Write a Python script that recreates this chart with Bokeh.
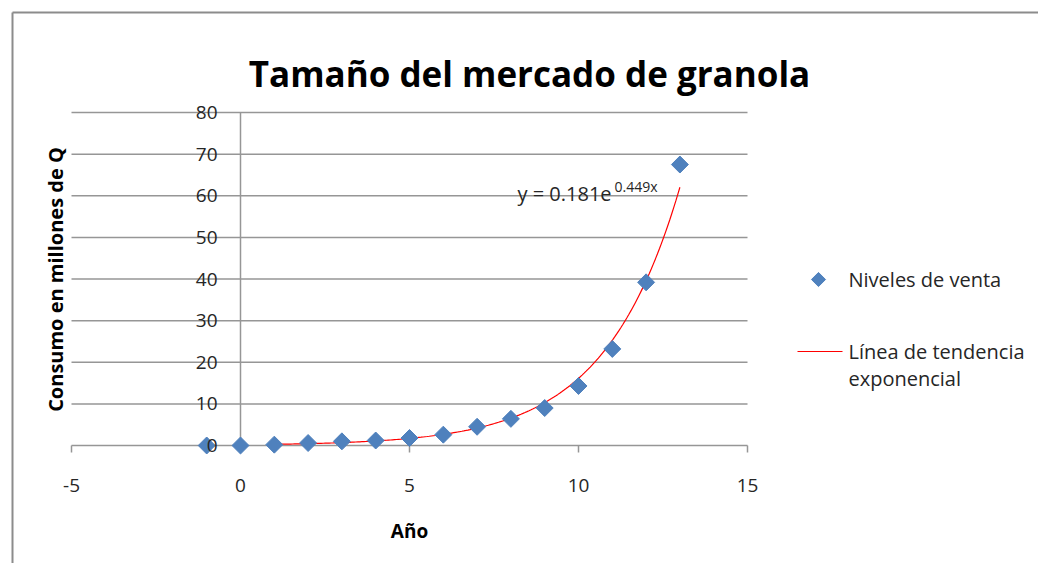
import numpy as np
from bokeh.plotting import figure
from bokeh.models import Range1d, ColumnDataSource
from bokeh.core.properties import value
from bokeh.embed import file_html
from bokeh.resources import INLINE

# ---- data ----
years = [-1, 0, 1, 2, 3, 4, 5, 6, 7, 8, 9, 10, 11, 12, 13]
sales = [0.0, 0.0, 0.2, 0.6, 1.0, 1.2, 1.8, 2.6, 4.5, 6.4, 9.0, 14.3, 23.2, 39.2, 67.5]
trend_a = 0.181   # coefficients shown in the chart's equation
trend_b = 0.449
trend_start, trend_end = 1, 13
x_ticks = [-5, 0, 5, 10, 15]
y_ticks = [0, 10, 20, 30, 40, 50, 60, 70, 80]
title_text = "Tamaño del mercado de granola"
x_title = "Año"
y_title = "Consumo en millones de Q"
series_name = "Niveles de venta"
trend_name_1 = "Línea de tendencia"
trend_name_2 = "exponencial"
eq_main = "y = 0.181e"
eq_sup = "0.449x"

FONT = value("Open Sans")
TXT = "#262626"
GRID = "#969696"
BLUE = "#4f81bd"

# The whole canvas is the plot frame; the plot area spans x -5..15, y 0..80
X0, X1 = -5, 15
Y0, Y1 = 0, 80
PX_L, PX_R, PX_T, PX_B = 71, 747, 112, 445
W, H = 1038, 563
sx = (X1 - X0) / (PX_R - PX_L)
sy = (Y1 - Y0) / (PX_B - PX_T)


def dx(px):
    return X0 + (px - PX_L) * sx


def dy(py):
    return Y0 + (PX_B - py) * sy


p = figure(width=W, height=H, output_backend="svg", toolbar_location=None,
           x_range=Range1d(dx(0), dx(W)), y_range=Range1d(dy(H), dy(0)),
           x_axis_location=None, y_axis_location=None, title=None,
           min_border=0)
p.outline_line_color = None
p.grid.visible = False
p.background_fill_color = "white"
p.border_fill_color = "white"

# outer chart border
p.segment(x0=[dx(12), dx(12)], y0=[dy(12), dy(12)], x1=[dx(12), dx(W + 20)],
          y1=[dy(H + 20), dy(12)], line_color="#8c8c8c", line_width=2)

# horizontal gridlines
p.segment(x0=[X0] * len(y_ticks), y0=y_ticks, x1=[X1] * len(y_ticks), y1=y_ticks,
          line_color=GRID, line_width=1.5)
# x tick marks below y=0
p.segment(x0=x_ticks, y0=[0] * len(x_ticks), x1=x_ticks, y1=[-7 * sy] * len(x_ticks),
          line_color=GRID, line_width=1.5)
# vertical axis line at x=0
p.segment(x0=[0], y0=[0], x1=[0], y1=[Y1], line_color=GRID, line_width=1.5)

# trend line
tx = np.linspace(trend_start, trend_end, 200)
ty = trend_a * np.exp(trend_b * tx)
p.line(tx, ty, line_color="#ff0000", line_width=1.2)

# data points
src = ColumnDataSource(dict(x=years, y=sales))
p.scatter("x", "y", source=src, marker="square", angle=np.pi / 4, size=12,
          fill_color=BLUE, line_color=BLUE)

# y tick labels next to the axis at x=0
p.text(x=[0] * len(y_ticks), y=y_ticks, text=[str(v) for v in y_ticks],
       x_offset=-23, text_align="right", text_baseline="middle",
       text_font=FONT, text_font_size="19px", text_color=TXT)
# x tick labels
p.text(x=x_ticks, y=[0] * len(x_ticks), text=[str(v) for v in x_ticks],
       y_offset=40, text_align="center", text_baseline="middle",
       text_font=FONT, text_font_size="19px", text_color=TXT)

# equation
p.text(x=[dx(517)], y=[dy(193)], text=[eq_main], text_font=FONT,
       text_font_size="20px", text_color=TXT, text_baseline="alphabetic")
p.text(x=[dx(614)], y=[dy(186)], text=[eq_sup], text_font=FONT,
       text_font_size="14px", text_color=TXT, text_baseline="alphabetic")

# titles
p.text(x=[dx(529)], y=[dy(73)], text=[title_text], text_font=FONT,
       text_font_size="35px", text_font_style="bold", text_color="#000000",
       text_align="center", text_baseline="alphabetic")
p.text(x=[dx(55)], y=[dy(279)], text=[y_title], text_font=FONT, angle=np.pi / 2,
       text_font_size="20px", text_font_style="bold", text_color="#000000",
       text_align="center", text_baseline="middle")
p.text(x=[dx(409)], y=[dy(530)], text=[x_title], text_font=FONT,
       text_font_size="19px", text_font_style="bold", text_color="#000000",
       text_align="center", text_baseline="middle")

# legend
p.scatter(x=[dx(818)], y=[dy(279)], marker="square", angle=np.pi / 4, size=10,
          fill_color=BLUE, line_color=BLUE)
p.segment(x0=[dx(797)], y0=[dy(351)], x1=[dx(842)], y1=[dy(351)],
          line_color="#ff0000", line_width=1.2)
p.text(x=[dx(848)] * 3, y=[dy(279), dy(351), dy(378)],
       text=[series_name, trend_name_1, trend_name_2], text_font=FONT,
       text_font_size="20px", text_color=TXT, text_align="left", text_baseline="middle")

open("out.html", "w").write(file_html(p, INLINE))
